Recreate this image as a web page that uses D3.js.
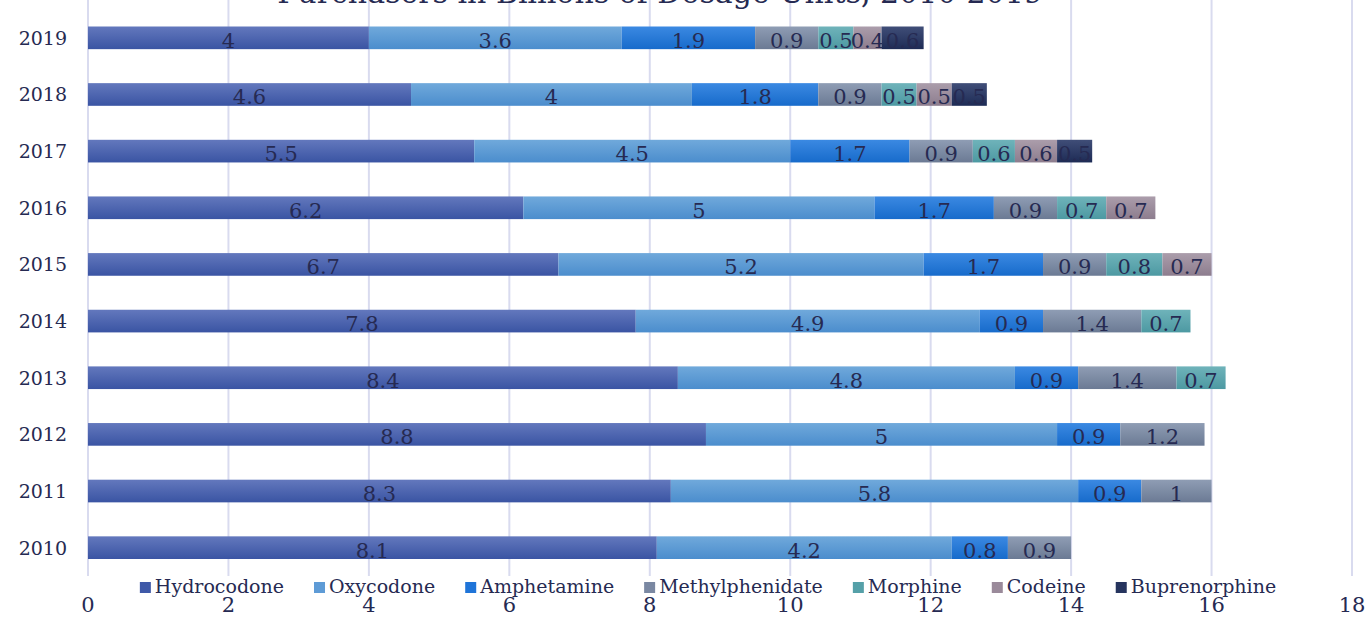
<!DOCTYPE html>
<html>
<head>
<meta charset="utf-8">
<script src="https://cdn.jsdelivr.net/npm/d3@7"></script>
<style>
  html, body { margin: 0; padding: 0; background: #fff; }
  svg { display: block; font-family: "DejaVu Serif", Georgia, serif; }
</style>
</head>
<body>
<svg id="chart" width="1366" height="618"></svg>
<script>
'use strict'

// data (billions of dosage units)
const years = ["2019","2018","2017","2016","2015","2014","2013","2012","2011","2010"]
const drugs = ["Hydrocodone","Oxycodone","Amphetamine","Methylphenidate","Morphine","Codeine","Buprenorphine"]
const hydrocodone     = [4, 4.6, 5.5, 6.2, 6.7, 7.8, 8.4, 8.8, 8.3, 8.1]
const oxycodone       = [3.6, 4, 4.5, 5, 5.2, 4.9, 4.8, 5, 5.8, 4.2]
const amphetamine     = [1.9, 1.8, 1.7, 1.7, 1.7, 0.9, 0.9, 0.9, 0.9, 0.8]
const methylphenidate = [0.9, 0.9, 0.9, 0.9, 0.9, 1.4, 1.4, 1.2, 1, 0.9]
const morphine        = [0.5, 0.5, 0.6, 0.7, 0.8, 0.7, 0.7, 0, 0, 0]
const codeine         = [0.4, 0.5, 0.6, 0.7, 0.7, 0, 0, 0, 0, 0]
const buprenorphine   = [0.6, 0.5, 0.5, 0, 0, 0, 0, 0, 0, 0]
const xTicks = [0,2,4,6,8,10,12,14,16,18]
const title = "Purchasers in Billions of Dosage Units, 2010-2019"

const seriesValues = [hydrocodone, oxycodone, amphetamine, methylphenidate, morphine, codeine, buprenorphine]
const table = years.map((y,i) => {
  let row = {year: y}
  drugs.forEach((d,j) => row[d] = seriesValues[j][i])
  return row
})

// gradient stops per series (top, bottom)
const colors = [
  ["#6378bd","#3a54a3"],
  ["#70a9db","#4b8dcd"],
  ["#3b89e2","#176bcb"],
  ["#8f9db4","#6b7a94"],
  ["#6fb3ba","#4d99a2"],
  ["#ab9dab","#8d7d8e"],
  ["#404e78","#1d2b55"]
]
const legendColors = ["#3f59a8","#5e9bd6","#1f74d8","#7a88a2","#55a0a8","#9a8a9a","#26345e"]
const ink = "#262a52"

const svg = d3.select("#chart")
const x = d3.scaleLinear().domain([0,18]).range([88,1352])
const y = d3.scaleBand().domain(years).range([9.5,576]).paddingInner(0.6).paddingOuter(0.3)

const defs = svg.append("defs")
colors.forEach((c,i) => {
  let g = defs.append("linearGradient").attr("id","grad"+i)
    .attr("x1",0).attr("y1",0).attr("x2",0).attr("y2",1)
  g.append("stop").attr("offset","0%").attr("stop-color",c[0])
  g.append("stop").attr("offset","100%").attr("stop-color",c[1])
})

// gridlines
svg.append("g").selectAll("line").data(xTicks).join("line")
  .attr("x1",d=>x(d)).attr("x2",d=>x(d))
  .attr("y1",0).attr("y2",576)
  .attr("stroke","#d9dbef").attr("stroke-width",2)

// title (cut off at the top in the original)
svg.append("text").attr("x",660).attr("y",3)
  .attr("text-anchor","middle").attr("font-size",30).attr("fill",ink)
  .text(title)

const stacked = d3.stack().keys(drugs)(table)

const layers = svg.append("g").selectAll("g").data(stacked).join("g")
  .attr("fill",(d,i)=>`url(#grad${i})`)

layers.selectAll("rect").data(d=>d.filter(s=>s[1]-s[0]>0)).join("rect")
  .attr("x",d=>x(d[0]))
  .attr("width",d=>x(d[1])-x(d[0]))
  .attr("y",d=>y(d.data.year))
  .attr("height",y.bandwidth())

layers.selectAll("text").data(d=>d.filter(s=>s[1]-s[0]>0).map(s=>({s, key:d.key}))).join("text")
  .attr("x",d=>(x(d.s[0])+x(d.s[1]))/2)
  .attr("y",d=>y(d.s.data.year)+y.bandwidth()/2+10)
  .attr("text-anchor","middle")
  .attr("font-size",21)
  .attr("fill",ink)
  .text(d=>d.s.data[d.key])

// year labels
svg.append("g").selectAll("text").data(years).join("text")
  .attr("x",67).attr("y",d=>y(d)+y.bandwidth()/2+7)
  .attr("text-anchor","end").attr("font-size",19).attr("fill",ink)
  .text(d=>d)

// x tick labels
svg.append("g").selectAll("text").data(xTicks).join("text")
  .attr("x",d=>x(d)).attr("y",612)
  .attr("text-anchor","middle").attr("font-size",21).attr("fill",ink)
  .text(d=>d)

// legend
const legend = svg.append("g")
let lx = 0
drugs.forEach((d,i) => {
  let item = legend.append("g").attr("transform",`translate(${lx},0)`)
  item.append("rect").attr("x",0).attr("y",-11).attr("width",11).attr("height",11).attr("fill",legendColors[i])
  let t = item.append("text").attr("x",15).attr("y",0).attr("font-size",19).attr("fill",ink).text(d)
  lx += 15 + t.node().getComputedTextLength() + 30
})
legend.attr("transform",`translate(${708 - (lx-30)/2},593)`)
</script>
</body>
</html>
